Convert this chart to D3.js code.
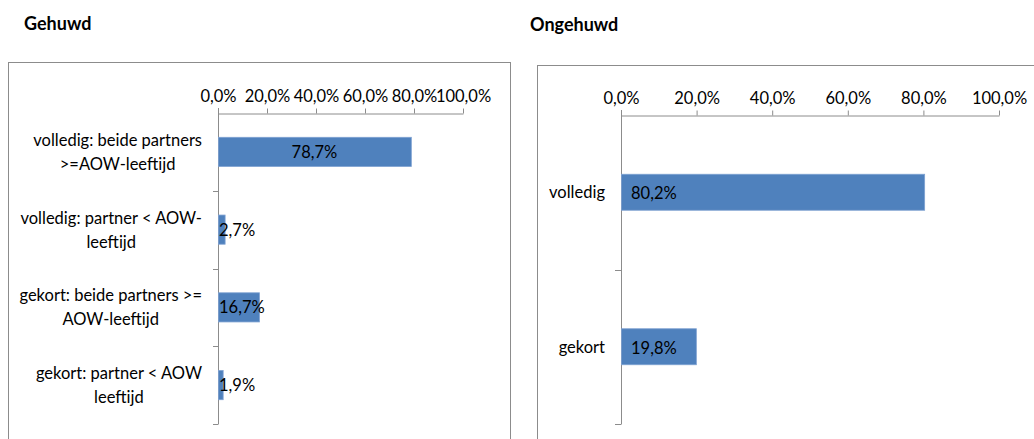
<!DOCTYPE html>
<meta charset="utf-8">
<head>
  <style>
    body { margin: 0; background: #fff; }
    svg text { font-family: Lato, "Open Sans", sans-serif; fill: #000; }
    .axis path, .axis line { stroke: #8c8c8c; }
    .title { font-weight: bold; font-size: 18px; }
    .tick text { font-size: 16.5px; }
    .cat { font-size: 16.5px; }
    .lbl { font-size: 16.5px; }
  </style>
</head>
<div id="chart"></div>
<script src="https://d3js.org/d3.v7.min.js"></script>
<script>
  // married (Gehuwd) panel
  var gehuwdCats = [
    ["volledig: beide partners", ">=AOW-leeftijd"],
    ["volledig: partner < AOW-", "leeftijd"],
    ["gekort: beide partners >=", "AOW-leeftijd"],
    ["gekort: partner < AOW", "leeftijd"]
  ];
  var gehuwdValues = [78.7, 2.7, 16.7, 1.9];

  // unmarried (Ongehuwd) panel
  var ongehuwdCats = ["volledig", "gekort"];
  var ongehuwdValues = [80.2, 19.8];

  var xTicks = [0, 20, 40, 60, 80, 100];
  var barColor = "#4f81bd";

  var fmt = function(v) { return v.toFixed(1).replace(".", ",") + "%"; };

  var svg = d3.select("#chart").append("svg")
    .attr("width", 1034).attr("height", 439);

  // panel frames
  svg.append("rect").attr("x", 8.5).attr("y", 62.5).attr("width", 502).attr("height", 400)
    .attr("fill", "none").attr("stroke", "#8c8c8c");
  svg.append("rect").attr("x", 537.5).attr("y", 65.5).attr("width", 520).attr("height", 400)
    .attr("fill", "none").attr("stroke", "#8c8c8c");

  svg.append("text").attr("class", "title").attr("x", 24).attr("y", 30).text("Gehuwd");
  svg.append("text").attr("class", "title").attr("x", 530).attr("y", 31).text("Ongehuwd");

  // ---- left panel ----
  var x1 = d3.scaleLinear().domain([0, 100]).range([218, 463]);
  var y1 = d3.scaleBand().domain(d3.range(gehuwdValues.length))
    .range([113, 424]).paddingInner(0.625).paddingOuter(0.3125);
  var step1 = y1.step();

  var ax1 = svg.append("g").attr("class", "axis")
    .attr("transform", "translate(0,113.5)")
    .call(d3.axisTop(x1).tickValues(xTicks).tickFormat(fmt).tickSize(5).tickSizeOuter(0));
  ax1.selectAll(".tick text").attr("y", -12);

  var yAxis1 = svg.append("g").attr("class", "axis");
  yAxis1.append("line").attr("x1", 218.5).attr("x2", 218.5).attr("y1", 108).attr("y2", 424);
  yAxis1.selectAll("line.t").data(d3.range(gehuwdValues.length))
    .enter().append("line").attr("class", "t")
    .attr("x1", 213).attr("x2", 218.5)
    .attr("y1", function(i) { return Math.round(y1(i) + y1.bandwidth() / 2 + step1 / 2) + 0.5; })
    .attr("y2", function(i) { return Math.round(y1(i) + y1.bandwidth() / 2 + step1 / 2) + 0.5; });

  svg.selectAll("rect.b1").data(gehuwdValues).enter().append("rect").attr("class", "b1")
    .attr("x", x1(0) + 0.5)
    .attr("y", function(d, i) { return y1(i); })
    .attr("width", function(d) { return x1(d) - x1(0); })
    .attr("height", y1.bandwidth())
    .attr("fill", barColor).attr("stroke", "#7ea1d2").attr("stroke-width", 0.8);

  svg.selectAll("text.l1").data(gehuwdValues).enter().append("text").attr("class", "lbl l1")
    .attr("x", function(d) { return d > 30 ? (x1(0) + x1(d)) / 2 : x1(0) + 1; })
    .attr("text-anchor", function(d) { return d > 30 ? "middle" : "start"; })
    .attr("y", function(d, i) { return y1(i) + y1.bandwidth() / 2 + 6; })
    .text(fmt);

  // two-line category labels, each block right edge at 202, lines centered
  gehuwdCats.forEach(function(lines, i) {
    var cy = y1(i) + y1.bandwidth() / 2;
    var t = svg.append("text").attr("class", "cat").attr("text-anchor", "middle");
    lines.forEach(function(s, j) {
      t.append("tspan").attr("y", cy - 6 + j * 24).text(s);
    });
    var w = d3.max(t.selectAll("tspan").nodes(), function(n) { return n.getComputedTextLength(); });
    t.selectAll("tspan").attr("x", 202 - w / 2);
  });

  // ---- right panel ----
  var x2 = d3.scaleLinear().domain([0, 100]).range([621, 999]);
  var y2 = d3.scaleBand().domain(ongehuwdCats)
    .range([115, 424]).paddingInner(0.767).paddingOuter(0.3835);
  var step2 = y2.step();

  var ax2 = svg.append("g").attr("class", "axis")
    .attr("transform", "translate(0,115.5)")
    .call(d3.axisTop(x2).tickValues(xTicks).tickFormat(fmt).tickSize(5).tickSizeOuter(0));
  ax2.selectAll(".tick text").attr("y", -12);

  var yAxis2 = svg.append("g").attr("class", "axis");
  yAxis2.append("line").attr("x1", 621.5).attr("x2", 621.5).attr("y1", 110).attr("y2", 424);
  yAxis2.selectAll("line.t").data(ongehuwdCats)
    .enter().append("line").attr("class", "t")
    .attr("x1", 615).attr("x2", 621.5)
    .attr("y1", function(c) { return Math.round(y2(c) + y2.bandwidth() / 2 + step2 / 2) + 0.5; })
    .attr("y2", function(c) { return Math.round(y2(c) + y2.bandwidth() / 2 + step2 / 2) + 0.5; });

  svg.selectAll("rect.b2").data(ongehuwdValues).enter().append("rect").attr("class", "b2")
    .attr("x", x2(0) + 0.5)
    .attr("y", function(d, i) { return y2(ongehuwdCats[i]); })
    .attr("width", function(d) { return x2(d) - x2(0); })
    .attr("height", y2.bandwidth())
    .attr("fill", barColor).attr("stroke", "#7ea1d2").attr("stroke-width", 0.8);

  svg.selectAll("text.l2").data(ongehuwdValues).enter().append("text").attr("class", "lbl l2")
    .attr("x", x2(0) + 10)
    .attr("y", function(d, i) { return y2(ongehuwdCats[i]) + y2.bandwidth() / 2 + 7; })
    .text(fmt);

  svg.selectAll("text.c2").data(ongehuwdCats).enter().append("text").attr("class", "cat c2")
    .attr("x", 605).attr("text-anchor", "end")
    .attr("y", function(c) { return y2(c) + y2.bandwidth() / 2 + 6; })
    .text(function(c) { return c; });
</script>
